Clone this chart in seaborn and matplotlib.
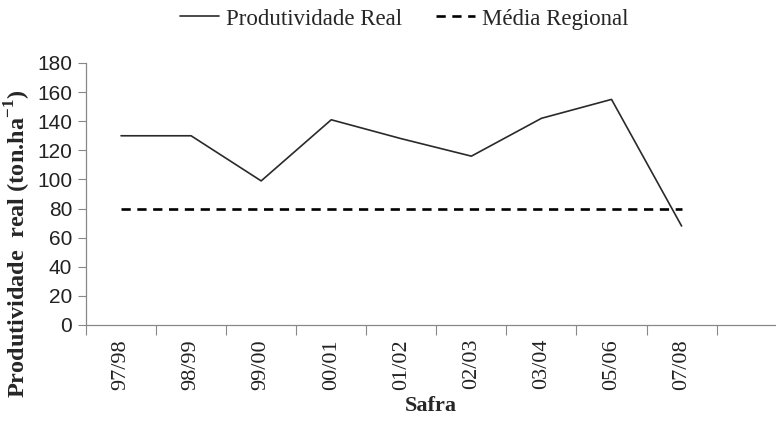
import numpy as np
import pandas as pd
import seaborn as sns
import matplotlib.pyplot as plt
from matplotlib.ticker import FixedLocator

# ---- data ----
safras = ["97/98", "98/99", "99/00", "00/01", "01/02", "02/03", "03/04", "05/06", "07/08"]
produtividade_real = [130, 130, 99, 141, 128, 116, 142, 155, 68]
media_regional = [80, 80, 80, 80, 80, 80, 80, 80, 80]
y_ticks = [0, 20, 40, 60, 80, 100, 120, 140, 160, 180]

sns.set_theme(style="white")
plt.rcParams['font.family'] = ['Liberation Sans', 'DejaVu Sans']

df = pd.DataFrame({
    "pos": np.arange(len(safras)),
    "Safra": safras,
    "Produtividade Real": produtividade_real,
    "Média Regional": media_regional,
})

W, H = 776, 421
fig = plt.figure(figsize=(W / 100, H / 100), dpi=100)
ax = fig.add_axes([86 / W, (H - 325) / H, (W - 86) / W, (325 - 63) / H])

sns.lineplot(data=df, x="pos", y="Produtividade Real", ax=ax, color="#2a2a2a",
             linewidth=1.2, label="Produtividade Real", legend=False)
sns.lineplot(data=df, x="pos", y="Média Regional", ax=ax, color="black",
             linewidth=1.9, linestyle=(0, (3.5, 2.5)), label="Média Regional", legend=False)

ax.set_ylim(0, 180)
ax.set_xlim(-0.5, -0.5 + 690 / 70.07)
ax.set_yticks(y_ticks)
ax.set_yticklabels([str(v) for v in y_ticks], fontsize=15, color="#222222")

ax.set_xticks(df["pos"])
ax.set_xticklabels(safras, rotation=90, fontsize=16, family="Liberation Serif", color="#222222")
ax.xaxis.set_minor_locator(FixedLocator(np.arange(-0.5, len(safras) + 1, 1.0)))
ax.tick_params(axis="x", which="major", length=0, pad=10)
ax.tick_params(axis="x", which="minor", length=7, width=0.8, color="#888888", direction="out", bottom=True)
ax.tick_params(axis="y", which="major", length=6, width=0.8, color="#888888", direction="out", left=True, pad=4)

for s in ["top", "right"]:
    ax.spines[s].set_visible(False)
for s in ["left", "bottom"]:
    ax.spines[s].set_color("#888888")
    ax.spines[s].set_linewidth(0.9)

ax.set_xlabel("Safra", fontsize=16, fontweight="bold", family="Liberation Serif", labelpad=5)
ax.set_ylabel("Produtividade  real (ton.ha$^{\\mathregular{ -1}}$)", fontsize=17.5, fontweight="bold",
              family="Liberation Serif")
ax.yaxis.set_label_coords((33 - 86) / 690, 0.31)

handles, labels = ax.get_legend_handles_labels()
fig.legend(handles, labels, loc="center", bbox_to_anchor=(404 / W, 1 - 19 / H), ncol=2, frameon=False,
           prop={"family": "Liberation Serif", "size": 16.5}, handlelength=1.7, columnspacing=1.5,
           handletextpad=0.3)

fig.savefig("out.png", dpi=100)
